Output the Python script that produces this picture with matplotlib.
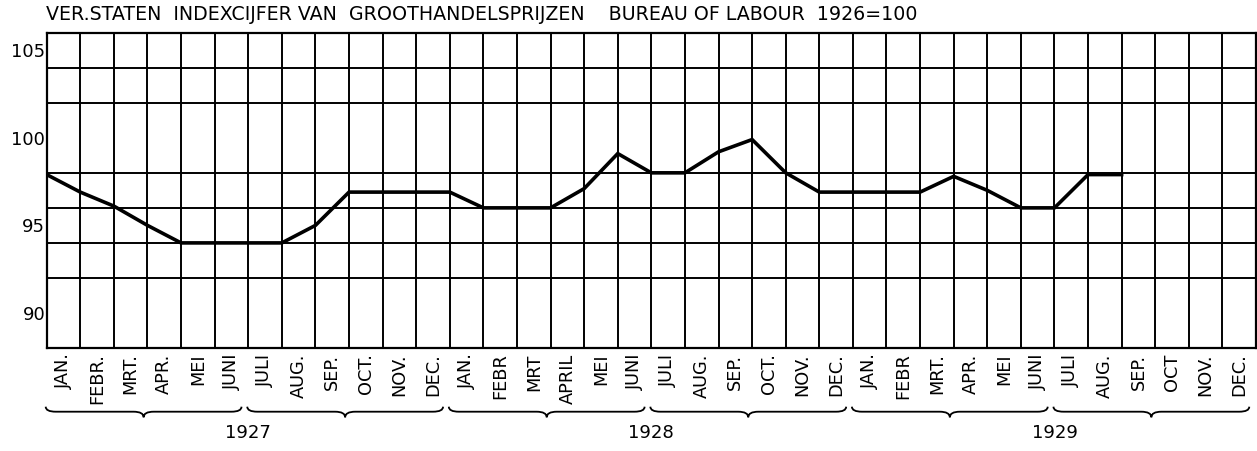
import numpy as np
import matplotlib
matplotlib.use("Agg")
import matplotlib.pyplot as plt
from matplotlib.path import Path
from matplotlib.patches import PathPatch
from matplotlib.transforms import blended_transform_factory

# ---- data ----
title = "VER.STATEN  INDEXCIJFER VAN  GROOTHANDELSPRIJZEN    BUREAU OF LABOUR  1926=100"
months = ["JAN.", "FEBR.", "MRT.", "APR.", "MEI", "JUNI", "JULI", "AUG.", "SEP.", "OCT.", "NOV.", "DEC.",
          "JAN.", "FEBR", "MRT", "APRIL", "MEI", "JUNI", "JULI", "AUG.", "SEP.", "OCT.", "NOV.", "DEC.",
          "JAN.", "FEBR", "MRT.", "APR.", "MEI", "JUNI", "JULI", "AUG.", "SEP.", "OCT", "NOV.", "DEC."]
years = ["1927", "1928", "1929"]
index_values = [97.9, 96.9, 96.1, 95.0, 94.0, 94.0, 94.0, 94.0, 95.0, 96.9, 96.9, 96.9,
                96.9, 96.0, 96.0, 96.0, 97.1, 99.1, 98.0, 98.0, 99.2, 99.9, 98.0, 96.9,
                96.9, 96.9, 96.9, 97.8, 97.0, 96.0, 96.0, 97.9, 97.9]
y_labels = [90, 95, 100, 105]

W, H = 1257, 451
fig = plt.figure(figsize=(W / 100, H / 100), dpi=100)
left, right, top, bottom = 46.7, 1256.0, 32.7, 348.0
ax = fig.add_axes([left / W, 1 - bottom / H, (right - left) / W, (bottom - top) / H])

n_months = len(months)
ax.set_xlim(0, n_months)
ax.set_ylim(88, 106)

# grid
ax.set_xticks(np.arange(0, n_months + 1), minor=True)
ax.set_yticks(np.arange(88, 107, 2), minor=True)
ax.grid(which="minor", color="black", linewidth=1.4)
ax.tick_params(which="both", length=0)

# month labels
ax.set_xticks(np.arange(n_months) + 0.5)
ax.set_xticklabels(months, rotation=90, fontsize=12.8, va="top", ha="center")
ax.tick_params(axis="x", which="major", pad=4)

ax.set_yticks(y_labels)
ax.set_yticklabels([str(v) for v in y_labels], fontsize=13)
ax.tick_params(axis="y", which="major", pad=1)

for sp in ax.spines.values():
    sp.set_color("black")
    sp.set_linewidth(1.6)

# data line
x = np.arange(len(index_values))
ax.plot(x, index_values, color="black", linewidth=2.6, solid_joinstyle="miter", zorder=5)

# title
fig.text(46 / W, 1 - 14 / H, title, fontsize=13.7, ha="left", va="center")

# braces for half-years
trans = blended_transform_factory(ax.transData, fig.transFigure)
yt = 1 - 406.7 / H
yf = 1 - 411.7 / H
yp = 1 - 417.3 / H
for h in range(n_months // 6):
    a = h * 6 - 0.03
    b = h * 6 + 6 - 0.2
    m = (a + b) / 2
    verts = [(a, yt), (a, yf), (a + 0.3, yf),
             (m - 0.3, yf),
             (m, yf), (m, yp),
             (m, yf), (m + 0.3, yf),
             (b - 0.3, yf),
             (b, yf), (b, yt)]
    codes = [Path.MOVETO, Path.CURVE3, Path.CURVE3,
             Path.LINETO,
             Path.CURVE3, Path.CURVE3,
             Path.CURVE3, Path.CURVE3,
             Path.LINETO,
             Path.CURVE3, Path.CURVE3]
    patch = PathPatch(Path(verts, codes), transform=trans, facecolor="none",
                      edgecolor="black", linewidth=1.3, clip_on=False)
    fig.add_artist(patch)

# year labels
for i, yr in enumerate(years):
    fig.text(0, 1 - 433 / H, yr, fontsize=13, ha="center", va="center",
             transform=trans).set_x(i * 12 + 6)

fig.savefig("out.png", dpi=100)
